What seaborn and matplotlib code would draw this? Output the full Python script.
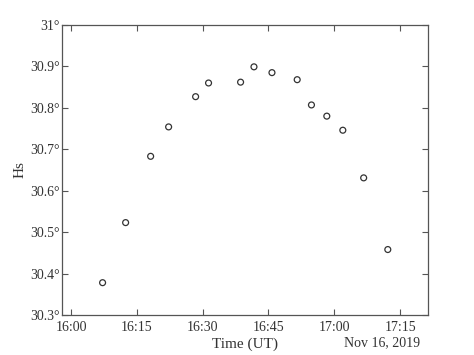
import pandas as pd
import seaborn as sns
import matplotlib.pyplot as plt
import matplotlib.dates as mdates
from matplotlib.ticker import FuncFormatter

# observation times (UT) and measured sun altitude Hs in degrees
times = ["16:07:12", "16:12:27", "16:18:09", "16:22:15", "16:28:24",
         "16:31:21", "16:38:39", "16:41:42", "16:45:48", "16:51:33",
         "16:54:48", "16:58:18", "17:01:57", "17:06:42", "17:12:12"]
hs = [30.378, 30.523, 30.683, 30.754, 30.827,
      30.860, 30.862, 30.899, 30.885, 30.868,
      30.807, 30.780, 30.746, 30.631, 30.458]

df = pd.DataFrame({"time": pd.to_datetime("2019-11-16 " + pd.Series(times)), "Hs": hs})

sns.set_style("white")
plt.rcParams['font.family'] = ['Liberation Serif', 'DejaVu Serif']

fig = plt.figure(figsize=(4.74, 3.55), dpi=100)
ax = fig.add_axes([0.1308, 0.1127, 0.7722, 0.8169])

sns.scatterplot(data=df, x="time", y="Hs", ax=ax, marker="o", s=18,
                facecolors="none", edgecolor="#333333", linewidth=0.9)

ax.set_xlim(pd.Timestamp("2019-11-16 15:57:57"), pd.Timestamp("2019-11-16 17:21:22"))
ax.set_ylim(30.3, 31.0)
ax.xaxis.set_major_locator(mdates.MinuteLocator(byminute=[0, 15, 30, 45]))
ax.xaxis.set_major_formatter(mdates.DateFormatter("%H:%M"))
ax.set_yticks([30.3, 30.4, 30.5, 30.6, 30.7, 30.8, 30.9, 31.0])
ax.yaxis.set_major_formatter(FuncFormatter(lambda v, p: f"{v:g}°"))

for s in ax.spines.values():
    s.set_color("#555555")
    s.set_linewidth(0.9)
ax.tick_params(direction="in", length=4, width=0.8, colors="#555555",
               labelcolor="#333333", labelsize=10, top=True, right=True,
               bottom=True, left=True)
ax.tick_params(axis="y", pad=1.5)
ax.tick_params(axis="x", pad=4)

ax.set_xlabel("Time (UT)", fontsize=11, color="#333333", labelpad=3)
ax.set_ylabel("Hs", fontsize=11, color="#333333", labelpad=3)
ax.text(0.978, -0.073, "Nov 16, 2019", transform=ax.transAxes, ha="right", va="top",
        fontsize=10, color="#333333")

fig.savefig("out.png", dpi=100)
